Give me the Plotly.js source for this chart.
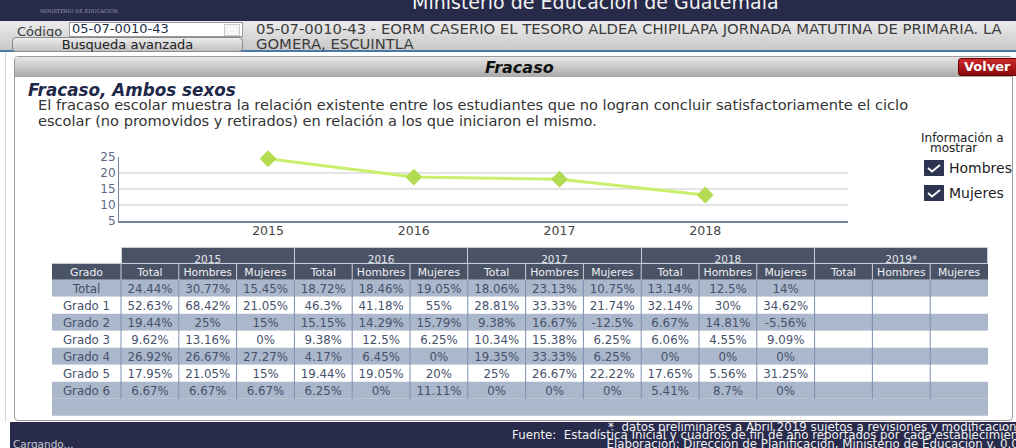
<!DOCTYPE html>
<html><head><meta charset="utf-8">
<script src="https://cdn.plot.ly/plotly-3.0.1.min.js"></script>
<style>
html,body{margin:0;padding:0;width:1016px;height:448px;overflow:hidden;background:#fff;font-family:"DejaVu Sans",Verdana,sans-serif;}
.abs{position:absolute;}
.nw{white-space:nowrap;}
</style></head><body>
<!-- top bars -->
<div class="abs" style="left:0;top:0;width:1016px;height:21px;background:#272b49;overflow:hidden">
  <div class="abs nw" style="left:412px;top:-9px;font-size:19px;color:#f2f2f2;">Ministerio de Educación de Guatemala</div>
  <div class="abs nw" style="left:40px;top:8px;font-size:5px;color:#9a9cb0;font-family:'DejaVu Serif'">MINISTERIO DE EDUCACIÓN</div>
</div>
<div class="abs" style="left:0;top:21px;width:1016px;height:29px;background:linear-gradient(#ececec,#c8c8c8);"></div>
<div class="abs" style="left:0;top:50px;width:1016px;height:2px;background:#4a78a8;"></div>
<div class="abs nw" style="left:17px;top:24px;font-size:13px;color:#3a3a3a;">Código</div>
<div class="abs" style="left:69px;top:22px;width:172px;height:13px;background:#fff;border:1px solid #999;"></div>
<div class="abs nw" style="left:72px;top:21px;font-size:13px;color:#26304a;">05-07-0010-43</div>
<div class="abs" style="left:224px;top:24px;width:14px;height:10px;border:1px solid #ccc;background:#f6f6f6;"></div>
<div class="abs nw" style="left:12px;top:37px;width:229px;height:13px;border:1px solid #8a8a8a;border-radius:4px;background:linear-gradient(#ececec,#c2c2c2);font-size:13px;line-height:13px;text-align:center;color:#222;">Busqueda avanzada</div>
<div class="abs nw" style="left:256px;top:21px;width:760px;overflow:hidden;font-size:14.8px;line-height:15px;color:#3c3c3c;">05-07-0010-43 - EORM CASERIO EL TESORO ALDEA CHIPILAPA JORNADA MATUTINA DE PRIMARIA. LA<br>GOMERA, ESCUINTLA</div>
<!-- left strip -->
<div class="abs" style="left:5px;top:52px;width:1px;height:370px;background:#d8d8d8;"></div>
<!-- panel -->
<div class="abs" style="left:14px;top:56px;width:997px;height:363px;border:1px solid #9a9a9a;border-radius:4px;background:#fff;"></div>
<div class="abs" style="left:15px;top:57px;width:997px;height:20px;background:linear-gradient(#e8e8e8,#a8a8a8);border-radius:3px 3px 0 0;"></div>
<div class="abs nw" style="left:485px;top:58px;font-size:16px;font-weight:bold;font-style:italic;color:#111;">Fracaso</div>
<div class="abs nw" style="left:958px;top:58px;width:66px;height:16px;border-radius:3px;background:linear-gradient(#cc2a2a,#8c0a0a);border:1px solid #6a0000;color:#fff;font-weight:bold;font-size:13px;line-height:16px;padding-left:5px;">Volver</div>
<div class="abs nw" style="left:28px;top:80px;font-size:16.8px;font-weight:bold;font-style:italic;color:#1e2848;">Fracaso, Ambos sexos</div>
<div class="abs nw" style="left:38px;top:97px;font-size:14.6px;line-height:16px;color:#333;">El fracaso escolar muestra la relación existente entre los estudiantes que no logran concluir satisfactoriamente el ciclo<br>escolar (no promovidos y retirados) en relación a los que iniciaron el mismo.</div>
<div class="abs nw" style="left:921px;top:133px;font-size:12px;line-height:10px;color:#222;">Información a</div>
<div class="abs nw" style="left:930px;top:143px;font-size:12px;line-height:10px;color:#222;">mostrar</div>
<div class="abs" style="left:924px;top:160px;width:20px;height:16px;background:#2c3452;"><svg width="20" height="16"><path d="M4 8 L8 11.5 L16 5" stroke="#fff" stroke-width="1.8" fill="none"/></svg></div>
<div class="abs nw" style="left:949px;top:160px;font-size:14px;color:#222;">Hombres</div>
<div class="abs" style="left:924px;top:185px;width:20px;height:16px;background:#2c3452;"><svg width="20" height="16"><path d="M4 8 L8 11.5 L16 5" stroke="#fff" stroke-width="1.8" fill="none"/></svg></div>
<div class="abs nw" style="left:949px;top:185px;font-size:14px;color:#222;">Mujeres</div>
<!-- footer -->
<div class="abs" style="left:10px;top:422px;width:1006px;height:26px;background:#282b4b;"></div>
<div class="abs nw" style="left:13px;top:438px;font-size:10.5px;color:#c8c8d0;">Cargando...</div>
<div class="abs nw" style="right:-14px;top:423px;font-size:11.8px;line-height:8.3px;color:#f0f0f0;text-align:right;">*&nbsp; datos preliminares a Abril 2019 sujetos a revisiones y modificaciones<br>Fuente:&nbsp; Estadística Inicial y cuadros de fin de año reportados por cada establecimiento<br>Elaboración: Dirección de Planificación, Ministerio de Educación v. 0.0.0</div>

<div id="plot" class="abs" style="left:0;top:0;width:1016px;height:448px;z-index:5;"></div>
<script>
// ---- data ----
const years = ['2015', '2016', '2017', '2018'];
const fracasoTotal = [24.44, 18.72, 18.06, 13.14];

const tableYears = ['2015', '2016', '2017', '2018', '2019*'];
const subCols = ['Total', 'Hombres', 'Mujeres'];
const grados = ['Total', 'Grado 1', 'Grado 2', 'Grado 3', 'Grado 4', 'Grado 5', 'Grado 6'];

const t2015Total   = [24.44, 52.63, 19.44, 9.62, 26.92, 17.95, 6.67];
const t2015Hombres = [30.77, 68.42, 25, 13.16, 26.67, 21.05, 6.67];
const t2015Mujeres = [15.45, 21.05, 15, 0, 27.27, 15, 6.67];
const t2016Total   = [18.72, 46.3, 15.15, 9.38, 4.17, 19.44, 6.25];
const t2016Hombres = [18.46, 41.18, 14.29, 12.5, 6.45, 19.05, 0];
const t2016Mujeres = [19.05, 55, 15.79, 6.25, 0, 20, 11.11];
const t2017Total   = [18.06, 28.81, 9.38, 10.34, 19.35, 25, 0];
const t2017Hombres = [23.13, 33.33, 16.67, 15.38, 33.33, 26.67, 0];
const t2017Mujeres = [10.75, 21.74, -12.5, 6.25, 6.25, 22.22, 0];
const t2018Total   = [13.14, 32.14, 6.67, 6.06, 0, 17.65, 5.41];
const t2018Hombres = [12.5, 30, 14.81, 4.55, 0, 5.56, 8.7];
const t2018Mujeres = [14, 34.62, -5.56, 9.09, 0, 31.25, 0];
const t2019Total   = [null, null, null, null, null, null, null];
const t2019Hombres = [null, null, null, null, null, null, null];
const t2019Mujeres = [null, null, null, null, null, null, null];

// ---- layout helpers ----
const W = 1016, H = 448;
const px = x => x / W, py = y => 1 - y / H;
const FONT = 'DejaVu Sans, Verdana, sans-serif';

const dataCols = [t2015Total, t2015Hombres, t2015Mujeres, t2016Total, t2016Hombres, t2016Mujeres,
  t2017Total, t2017Hombres, t2017Mujeres, t2018Total, t2018Hombres, t2018Mujeres,
  t2019Total, t2019Hombres, t2019Mujeres];
const fmt = v => (v === null ? '' : v + '%');

const GRAY = '#abb7cb', WHITE = '#ffffff', DARK = '#4a5265';
const rowFill = grados.map((g, i) => (i % 2 === 0 ? GRAY : WHITE)).concat([GRAY]);
const cellValues = [grados.concat([''])].concat(dataCols.map(c => c.map(fmt).concat([''])));

const tabL = 52, tabR = 988, gradoW = 69;
const subW = (tabR - tabL - gradoW) / 15;
const colWidths = [gradoW].concat(dataCols.map(() => subW));
const yearWidths = [gradoW].concat(tableYears.map(() => subW * 3));

const yearTop = 247, headH = 16.4, rowH = 17, textLift = 4.5;
const subTop = yearTop + headH;
const bodyTop = subTop + headH;

const shapes = [];
// header band and row bands (drawn below the table text)
shapes.push({type: 'rect', xref: 'paper', yref: 'paper', x0: px(tabL), x1: px(tabR),
  y0: py(bodyTop), y1: py(subTop), fillcolor: DARK, line: {width: 0}, layer: 'below'});
rowFill.forEach((c, i) => {
  shapes.push({type: 'rect', xref: 'paper', yref: 'paper', x0: px(tabL), x1: px(tabR),
    y0: py(bodyTop + (i + 1) * rowH), y1: py(bodyTop + i * rowH), fillcolor: c, line: {width: 0}, layer: 'below'});
});
// vertical separators
let acc = tabL;
for (let i = 0; i < colWidths.length - 1; i++) {
  acc += colWidths[i];
  shapes.push({type: 'line', xref: 'paper', yref: 'paper', x0: px(acc), x1: px(acc),
    y0: py(bodyTop), y1: py(bodyTop + grados.length * rowH), line: {color: '#7d8fb1', width: 1}, layer: 'above'});
  shapes.push({type: 'line', xref: 'paper', yref: 'paper', x0: px(acc), x1: px(acc),
    y0: py(bodyTop), y1: py(subTop), line: {color: '#c9ced8', width: 1}, layer: 'above'});
}
shapes.push({type: 'line', xref: 'paper', yref: 'paper', x0: px(tabL), x1: px(tabR),
  y0: py(subTop), y1: py(subTop), line: {color: '#c9ced8', width: 1}, layer: 'above'});

const traces = [
  {
    type: 'scatter', mode: 'lines+markers', x: years.map((y, i) => i), y: fracasoTotal,
    line: {color: '#c8f06c', width: 3}, marker: {symbol: 'diamond', size: 13, color: '#b4dc52'},
    hoverinfo: 'skip', cliponaxis: false
  },
  {
    type: 'table', domain: {x: [px(tabL), px(tabR)], y: [py(yearTop + 40), py(yearTop)]},
    columnwidth: yearWidths,
    header: {values: [''].concat(tableYears), height: headH, align: 'center',
      fill: {color: ['rgba(0,0,0,0)'].concat(tableYears.map(() => DARK))},
      line: {color: ['rgba(0,0,0,0)'].concat(tableYears.map(() => '#c9ced8')), width: 1},
      font: {family: FONT, size: 10.5, color: '#e4e7ee'}},
    cells: {values: yearWidths.map(() => []), height: rowH}
  },
  {
    type: 'table', domain: {x: [px(tabL), px(tabR)], y: [py(424), py(subTop - textLift + 1)]},
    columnwidth: colWidths,
    header: {values: ['Grado'].concat(tableYears.flatMap(() => subCols)), height: headH, align: 'center',
      fill: {color: 'rgba(0,0,0,0)'}, line: {color: 'rgba(0,0,0,0)', width: 0},
      font: {family: FONT, size: 10.8, color: '#eef0f4'}},
    cells: {values: cellValues, height: rowH, align: 'center',
      fill: {color: 'rgba(0,0,0,0)'}, line: {color: 'rgba(0,0,0,0)', width: 0},
      font: {family: FONT, size: 11.8, color: '#46516b'}}
  }
];

const layout = {
  width: W, height: H, margin: {l: 0, r: 0, t: 0, b: 0},
  paper_bgcolor: 'rgba(0,0,0,0)', plot_bgcolor: 'rgba(0,0,0,0)', showlegend: false,
  font: {family: FONT},
  xaxis: {domain: [px(119), px(848)], range: [-1.023, 3.98], tickvals: years.map((y, i) => i), ticktext: years,
    showgrid: false, zeroline: false, showline: true, linecolor: '#7584a0', linewidth: 1.5,
    ticklabelstandoff: -3,
    tickfont: {family: FONT, size: 12.5, color: '#444'}, fixedrange: true},
  yaxis: {domain: [py(221), py(157)], range: [5, 25], dtick: 5, tick0: 5,
    gridcolor: '#e4e4e4', gridwidth: 2, zeroline: false, showline: true, linecolor: '#7584a0', linewidth: 1,
    tickfont: {family: FONT, size: 12, color: '#5b6a8a'}, fixedrange: true},
  shapes: shapes
};

Plotly.newPlot('plot', traces, layout, {displayModeBar: false, staticPlot: true});
</script>
</body></html>
